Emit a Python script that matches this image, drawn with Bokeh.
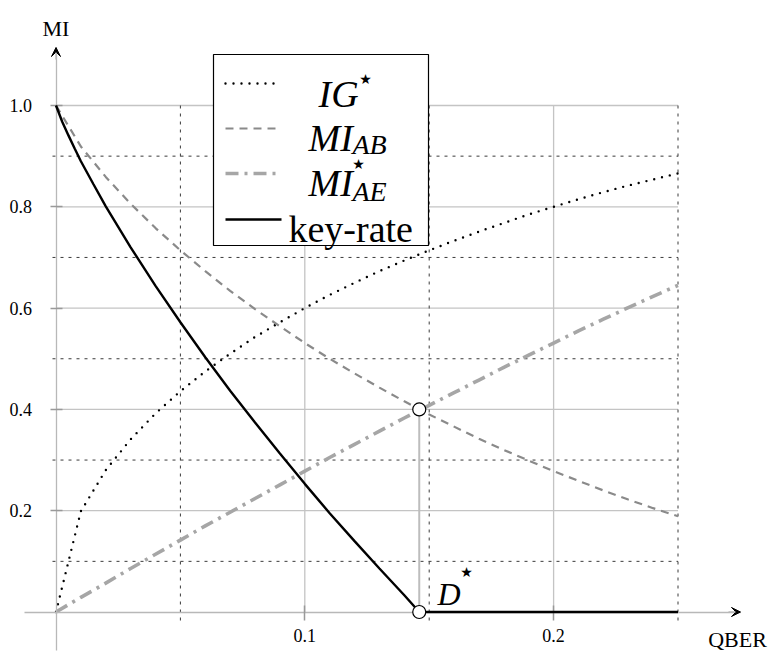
from bokeh.plotting import figure
from bokeh.models import (Range1d, LinearAxis, FixedTicker, PrintfTickFormatter,
                          Label, Arrow, VeeHead)
from bokeh.embed import file_html
from bokeh.resources import INLINE

# ---- data -------------------------------------------------------------
qber = [0.00, 0.01, 0.02, 0.03, 0.04, 0.05, 0.06, 0.07, 0.08, 0.09, 0.10, 0.11, 0.12,
        0.13, 0.14, 0.15, 0.16, 0.17, 0.18, 0.19, 0.20, 0.21, 0.22, 0.23, 0.24, 0.25]
ig_star = [0.000, 0.199, 0.280, 0.341, 0.392, 0.436, 0.475, 0.510, 0.543, 0.572, 0.600,
           0.626, 0.650, 0.673, 0.694, 0.714, 0.733, 0.751, 0.768, 0.785, 0.800, 0.815,
           0.829, 0.842, 0.854, 0.866]
mi_ab = [1.000, 0.919, 0.859, 0.806, 0.758, 0.714, 0.673, 0.634, 0.598, 0.564, 0.531,
         0.500, 0.471, 0.443, 0.416, 0.390, 0.366, 0.342, 0.320, 0.299, 0.278, 0.259,
         0.240, 0.222, 0.205, 0.189]
mi_ae_star = [0.000, 0.029, 0.057, 0.086, 0.114, 0.142, 0.170, 0.197, 0.224, 0.251, 0.278,
              0.305, 0.331, 0.357, 0.383, 0.408, 0.433, 0.458, 0.483, 0.507, 0.531, 0.555,
              0.578, 0.601, 0.623, 0.645]
key_rate_qber = [0.00, 0.0025, 0.005, 0.0075, 0.01, 0.015, 0.02, 0.03, 0.04, 0.05, 0.06,
                 0.07, 0.08, 0.09, 0.10, 0.11, 0.12, 0.13, 0.14, 0.146, 0.20, 0.25]
key_rate = [1.000, 0.968, 0.941, 0.915, 0.890, 0.845, 0.801, 0.720, 0.644, 0.572, 0.503,
            0.437, 0.374, 0.313, 0.253, 0.195, 0.140, 0.086, 0.033, 0.000, 0.000, 0.000]

# operating point D*: where MI_AB meets MI*_AE and the key rate vanishes
d_star_qber = 0.146
d_star_mi = 0.40

x_ticks = [0.1, 0.2]
y_ticks = [0.2, 0.4, 0.6, 0.8, 1.0]
x_minor = [0.05, 0.15, 0.25]
y_minor = [0.1, 0.3, 0.5, 0.7, 0.9]

# ---- page geometry (pixels) --------------------------------------------
W, H = 776, 651
ORIG_X, ORIG_Y = 55.5, 611.5      # where the axes cross
SX, SY = 2488.0, 506.5            # pixels per data unit


def fx(px):
    return (px - ORIG_X) / SX


def fy(py):
    return (ORIG_Y - py) / SY


SERIF = "Liberation Serif"
INK = "black"

p = figure(width=W, height=H, output_backend="svg", toolbar_location=None,
           x_range=Range1d(fx(0), fx(W)), y_range=Range1d(fy(H), fy(0)),
           x_axis_location=None, y_axis_location=None,
           min_border_left=0, min_border_right=0, min_border_top=0, min_border_bottom=0,
           outline_line_color=None, background_fill_color="white",
           border_fill_color="white")
p.grid.visible = False

# ---- grid ---------------------------------------------------------------
x_lo, x_hi = qber[0], qber[-1]
y_top = y_ticks[-1]
p.segment(x0=x_lo, y0=y_ticks, x1=x_hi, y1=y_ticks, line_color="#c4c4c4", line_width=1.3)
p.segment(x0=x_ticks, y0=0, x1=x_ticks, y1=y_top, line_color="#c4c4c4", line_width=1.3)
p.segment(x0=fx(52), y0=y_minor, x1=x_hi, y1=y_minor, line_color="#3a3a3a",
          line_width=1, line_dash="3 5")
p.segment(x0=x_minor, y0=fy(620), x1=x_minor, y1=y_top, line_color="#3a3a3a",
          line_width=1, line_dash="3 5")

# ---- axes through the origin ---------------------------------------------
axis_style = dict(axis_line_color="#b8b8b8", axis_line_width=1.3,
                  major_tick_line_color="#999999", major_tick_line_width=1.5,
                  minor_tick_line_color=None,
                  major_label_text_font=SERIF, major_label_text_font_size="18px",
                  major_label_text_color=INK,
                  formatter=PrintfTickFormatter(format="%.1f"))
xaxis = LinearAxis(fixed_location=0, bounds=(fx(24), fx(740)),
                   ticker=FixedTicker(ticks=x_ticks, minor_ticks=[]),
                   major_tick_in=7, major_tick_out=8, major_label_standoff=9, **axis_style)
yaxis = LinearAxis(fixed_location=0, bounds=(fy(650), fy(47)),
                   ticker=FixedTicker(ticks=y_ticks, minor_ticks=[]),
                   major_tick_in=6, major_tick_out=6, major_label_standoff=18, **axis_style)
p.add_layout(xaxis, "below")
p.add_layout(yaxis, "left")

p.add_layout(Arrow(end=VeeHead(size=9, fill_color="black", line_color="black"),
                   x_start=fx(728), y_start=0, x_end=fx(740), y_end=0,
                   line_color="#b8b8b8", line_width=1.3))
p.add_layout(Arrow(end=VeeHead(size=9, fill_color="black", line_color="black"),
                   x_start=0, y_start=fy(59), x_end=0, y_end=fy(47),
                   line_color="#b8b8b8", line_width=1.3))

p.add_layout(Label(x=0, y=fy(28), text="MI", text_font=SERIF, text_font_size="22px",
                   text_color=INK, text_align="center", text_baseline="alphabetic"))
p.add_layout(Label(x=fx(737), y=fy(639), text="QBER", text_font=SERIF,
                   text_font_size="22px", text_color=INK, text_align="center",
                   text_baseline="alphabetic"))

# ---- curves ---------------------------------------------------------------
ig_style = dict(line_color="black", line_width=2.4, line_dash="0 8", line_cap="round")
ab_style = dict(line_color="#8a8a8a", line_width=2.2, line_dash="8 6")
ae_style = dict(line_color="#a6a6a6", line_width=3.6, line_dash="13 6 3 6")
kr_style = dict(line_color="black", line_width=2.4)

p.line(qber, ig_star, **ig_style)
p.line(qber, mi_ab, **ab_style)
p.line(qber, mi_ae_star, **ae_style)

p.segment(x0=[d_star_qber], y0=[0], x1=[d_star_qber], y1=[d_star_mi],
          line_color="#bdbdbd", line_width=2, level="annotation")
p.line(key_rate_qber, key_rate, level="annotation", **kr_style)
p.scatter([d_star_qber, d_star_qber], [d_star_mi, 0], size=13, fill_color="white",
          line_color="black", line_width=1.2, level="annotation")


def put(px, py, text, size, italic=True, font=SERIF, baseline="alphabetic", align="left"):
    p.add_layout(Label(x=fx(px), y=fy(py), text=text, text_font=font, text_color=INK,
                       text_font_size=size, text_align=align, text_baseline=baseline,
                       text_font_style="italic" if italic else "normal"))


STAR = dict(italic=False, font="DejaVu Sans", baseline="middle", align="center")

put(437, 593, "D", "32px")
put(466, 571, "★", "14px", **STAR)

# ---- legend ---------------------------------------------------------------
p.quad(left=fx(213), right=fx(428), top=fy(54), bottom=fy(245),
       fill_color="white", line_color="black", line_width=1.2)
sx0, sx1 = fx(225), fx(281)
p.line([sx0, sx1], [fy(83), fy(83)], **ig_style)
p.line([sx0, sx1], [fy(128), fy(128)], **ab_style)
p.line([sx0, sx1], [fy(173), fy(173)], **ae_style)
p.line([sx0, sx1], [fy(219), fy(219)], **kr_style)

BIG, SUB = "38px", "28px"

put(318, 93, "IG", BIG)
put(365, 78, "★", "14px", **STAR)
put(308, 137, "MI", BIG)
put(352, 144, "AB", SUB)
put(308, 182, "MI", BIG)
put(358, 163, "★", "14px", **STAR)
put(352, 191, "AE", SUB)
put(288, 228, "key-rate", BIG, italic=False)

open("out.html", "w").write(file_html(p, INLINE))
